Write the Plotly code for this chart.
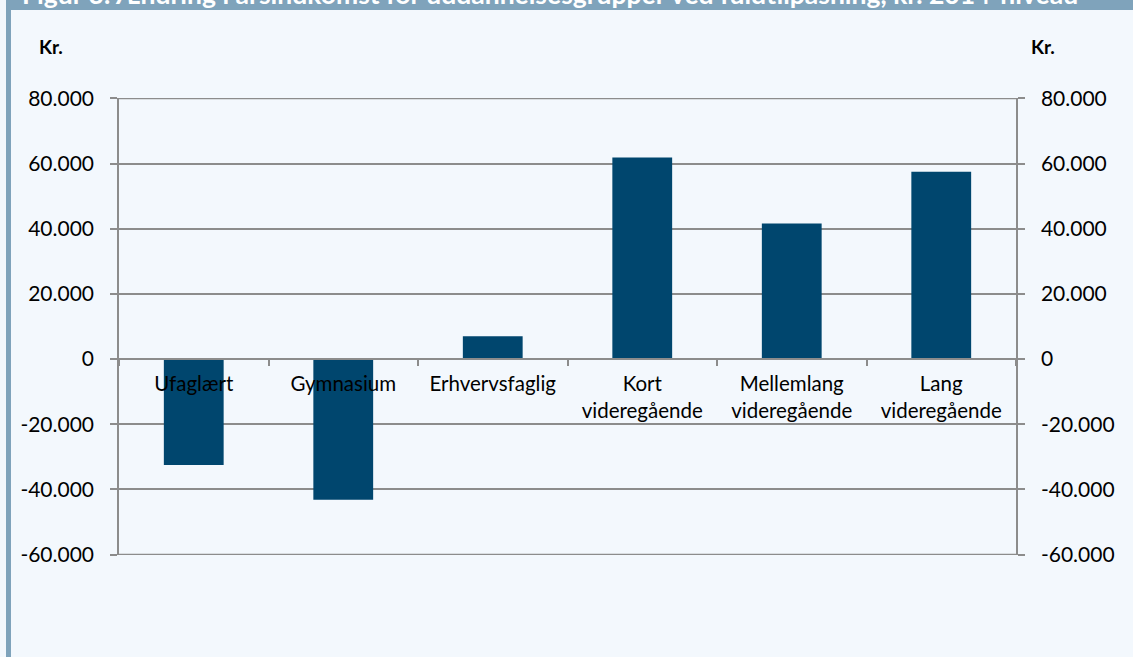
import plotly.graph_objects as go

categories = ["Ufaglært", "Gymnasium", "Erhvervsfaglig", "Kort<br>videregående",
              "Mellemlang<br>videregående", "Lang<br>videregående"]
values = [-32500, -43200, 7000, 61900, 41600, 57500]
tick_vals = [-60000, -40000, -20000, 0, 20000, 40000, 60000, 80000]
tick_text = ["-60.000", "-40.000", "-20.000", "0", "20.000", "40.000", "60.000", "80.000"]
title_text = "Figur 3: Ændring i årsindkomst for uddannelsesgrupper ved fuldtilpasning, kr. 2014-niveau"

W, H = 1133, 657
L, R, T, B = 119, 1016, 98, 555
pw, ph = R - L, B - T

def px(x):
    return (x - L) / pw

def py(y):
    return (B - y) / ph

grid_col = "#8c8c8c"
font_fam = "Lato, 'Open Sans', sans-serif"
yr = [-60150, 80150]

fig = go.Figure()
fig.add_trace(go.Bar(x=categories, y=values, marker=dict(color="#00466e", line=dict(width=0)),
                     showlegend=False))
fig.add_trace(go.Scatter(x=categories, y=values, yaxis="y2", mode="markers",
                         marker=dict(opacity=0), showlegend=False, hoverinfo="skip"))

edge_lines = [dict(type="line", xref="paper", yref="y", x0=0, x1=1, y0=v, y1=v,
                   line=dict(color=grid_col, width=1.5), layer="below")
              for v in (tick_vals[0], tick_vals[-1])]

fig.update_layout(
    width=W, height=H,
    margin=dict(l=L, r=W - R, t=T, b=H - B, pad=0),
    paper_bgcolor="#f3f8fd", plot_bgcolor="#f3f8fd",
    font=dict(family=font_fam, size=21, color="#000000"),
    bargap=0.6,
    xaxis=dict(anchor="free", position=py(359), showline=True, linecolor=grid_col, linewidth=1.5,
               ticks="outside", tickson="boundaries", ticklen=6, tickcolor=grid_col, tickwidth=1.5,
               showgrid=False, zeroline=False, tickfont=dict(size=20.5), ticklabelstandoff=7),
    yaxis=dict(range=yr, tickvals=tick_vals, ticktext=tick_text,
               showline=True, linecolor=grid_col, linewidth=1.5, ticks="outside", ticklen=7,
               tickcolor=grid_col, tickwidth=1.5, showgrid=True, gridcolor=grid_col, gridwidth=1.5,
               zeroline=False, ticklabelstandoff=12, tickfont=dict(size=21)),
    yaxis2=dict(range=yr, tickvals=tick_vals, ticktext=tick_text, overlaying="y",
                side="right", showline=True, linecolor=grid_col, linewidth=1.5, ticks="outside",
                ticklen=7, tickcolor=grid_col, tickwidth=1.5, showgrid=False, zeroline=False,
                ticklabelstandoff=12, tickfont=dict(size=21)),
    shapes=[
        dict(type="rect", xref="paper", yref="paper", x0=px(6), x1=px(W + 5), y0=py(10), y1=py(-5),
             fillcolor="#7fa3bb", line=dict(width=0), layer="below"),
        dict(type="rect", xref="paper", yref="paper", x0=px(6), x1=px(11), y0=py(H + 5), y1=py(-5),
             fillcolor="#7fa3bb", line=dict(width=0), layer="below"),
    ] + edge_lines,
    annotations=[
        dict(text="<b>" + title_text + "</b>", xref="paper", yref="paper", x=px(20), y=py(12),
             xanchor="left", yanchor="bottom", showarrow=False,
             font=dict(size=26.5, color="#ffffff", family=font_fam)),
        dict(text="<b>Kr.</b>", xref="paper", yref="paper", x=px(37), y=py(47),
             xanchor="left", yanchor="middle", showarrow=False, font=dict(size=19)),
        dict(text="<b>Kr.</b>", xref="paper", yref="paper", x=px(1029), y=py(47),
             xanchor="left", yanchor="middle", showarrow=False, font=dict(size=19)),
    ],
)

fig.write_html("out.html", config={"displayModeBar": False},
               post_script="document.body.style.margin='0';document.body.style.background='#f3f8fd';")
